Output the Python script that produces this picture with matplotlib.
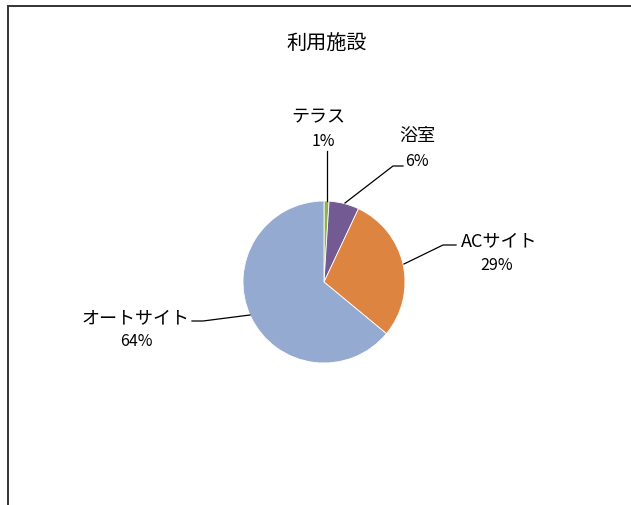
import matplotlib.pyplot as plt
from matplotlib.patches import Rectangle

plt.rcParams['font.family'] = ['Noto Sans CJK JP', 'DejaVu Sans']

# データ
title = "利用施設"
categories = ["テラス", "浴室", "ACサイト", "オートサイト"]
values = [1, 6, 29, 64]
colors = ["#8DB34F", "#735A92", "#DC8440", "#95AAD1"]

W, H = 631, 506
fig = plt.figure(figsize=(W / 100, H / 100), dpi=100)
ax = fig.add_axes([0, 0, 1, 1])

# 枠線 (左と上だけ見える)
ax.add_patch(Rectangle((8, -10), W + 20, H - 7 + 10, fill=False,
                       edgecolor="#333333", linewidth=1.4, clip_on=False))

cx, cy, r = 324, H - 283, 81
ax.pie(values, colors=colors, startangle=90, counterclock=False,
       center=(cx, cy), radius=r, frame=True,
       wedgeprops=dict(linewidth=0.6, edgecolor="white"))
ax.set_xlim(0, W)
ax.set_ylim(0, H)
ax.set_aspect('equal')
ax.axis('off')

ax.text(327, H - 44, title, ha='center', va='center', fontsize=14.5)

# ラベルと引き出し線 (画面座標, y は上から)
label_pos = [(318, 117, 323, 142), (417, 136, 417, 162),
             (499, 241, 497, 266), (135, 318, 136, 341)]
leaders = [
    [(327, 202), (327, 152)],
    [(345, 204), (393, 167), (403, 167)],
    [(404, 265), (443, 246), (456, 246)],
    [(250, 316), (203, 322), (192, 322)],
]
for cat, v, (tx, ty, px, py), pts in zip(categories, values, label_pos, leaders):
    ax.text(tx, H - ty, cat, ha='center', va='center', fontsize=13)
    ax.text(px, H - py, f"{v}%", ha='center', va='center', fontsize=11.5)
    xs = [p[0] for p in pts]
    ys = [H - p[1] for p in pts]
    ax.plot(xs, ys, color="black", linewidth=0.9)

fig.savefig("out.png", dpi=100)
